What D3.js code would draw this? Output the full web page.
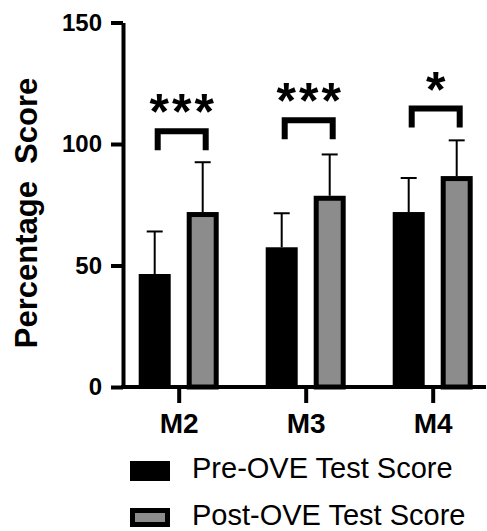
<!DOCTYPE html>
<html>
<head>
<meta charset="utf-8">
<script src="https://cdn.jsdelivr.net/npm/d3@7"></script>
<style>
  body { margin: 0; background: #fff; }
  svg { display: block; font-family: "Liberation Sans", Arial, sans-serif; }
</style>
</head>
<body>
<div id="app"></div>
<script>
// data
const categories = ["M2", "M3", "M4"];
const series = ["Pre-OVE Test Score", "Post-OVE Test Score"];
const preMean = [46.5, 57.5, 72];
const preSD = [17.5, 14, 14];
const postMean = [72, 78.7, 86.8];
const postSD = [20.5, 17, 14.7];
const significance = ["***", "***", "*"];
const bracketLevel = [106.5, 111, 115.8];
const yTicks = [0, 50, 100, 150];

const width = 487, height = 531;
const svg = d3.select("#app").append("svg")
    .attr("width", width)
    .attr("height", height);

// scales
const y = d3.scaleLinear().domain([0, 150]).range([387, 22.5]);
const x = d3.scalePoint().domain(categories).range([178.7, 432.7]);
const xSub = d3.scaleBand().domain(series).range([-40, 40]).paddingInner(1 / 3);
const bw = xSub.bandwidth();

const rows = categories.map((c, i) => ({
    cat: c,
    bars: [
        { s: series[0], mean: preMean[i], sd: preSD[i] },
        { s: series[1], mean: postMean[i], sd: postSD[i] }
    ],
    sig: significance[i],
    level: bracketLevel[i]
}));

// error bars (only the upper half shows)
const err = svg.append("g");
rows.forEach(r => {
    r.bars.forEach(b => {
        const cx = x(r.cat) + xSub(b.s) + bw / 2;
        err.append("line")
            .attr("x1", cx).attr("x2", cx)
            .attr("y1", y(b.mean)).attr("y2", y(b.mean + b.sd))
            .attr("stroke", "#000").attr("stroke-width", 2);
        err.append("line")
            .attr("x1", cx - 8).attr("x2", cx + 8)
            .attr("y1", y(b.mean + b.sd)).attr("y2", y(b.mean + b.sd))
            .attr("stroke", "#000").attr("stroke-width", 2);
    });
});

// bars
const group = svg.selectAll(".grp")
    .data(rows)
    .enter().append("g")
    .attr("class", "grp")
    .attr("transform", d => `translate(${x(d.cat)},0)`);

group.append("rect")
    .attr("x", xSub(series[0]))
    .attr("y", d => y(d.bars[0].mean))
    .attr("width", bw)
    .attr("height", d => y(0) - y(d.bars[0].mean))
    .attr("fill", "#000");

group.append("rect")
    .attr("x", xSub(series[1]) + 2.5)
    .attr("y", d => y(d.bars[1].mean) + 2.5)
    .attr("width", bw - 5)
    .attr("height", d => y(0) - y(d.bars[1].mean) - 2.5)
    .attr("fill", "#8c8c8c")
    .attr("stroke", "#000")
    .attr("stroke-width", 5);

// significance brackets
group.append("path")
    .attr("d", d => {
        const x1 = xSub(series[0]) + bw / 2 + 3;
        const x2 = xSub(series[1]) + bw / 2 + 3;
        const top = y(d.level) + 3;
        return `M${x1},${top + 19}V${top}H${x2}V${top + 19}`;
    })
    .attr("fill", "none")
    .attr("stroke", "#000")
    .attr("stroke-width", 6);

group.append("text")
    .attr("x", 3 + 1.5)
    .attr("y", d => y(d.level) + 1)
    .attr("text-anchor", "middle")
    .style("font-size", "50px")
    .style("font-weight", "bold")
    .style("letter-spacing", "3px")
    .text(d => d.sig);

// y axis
const yAxis = svg.append("g")
    .attr("transform", "translate(123,0)")
    .call(d3.axisLeft(y).tickValues(yTicks).tickSize(12).tickSizeOuter(0).tickPadding(9));
yAxis.select(".domain").attr("stroke-width", 4);
yAxis.selectAll(".tick line").attr("stroke-width", 4);
yAxis.selectAll(".tick text")
    .style("font-size", "24px")
    .style("font-weight", "bold")
    .style("font-family", "'Liberation Sans', Arial, sans-serif")
    .attr("fill", "#000");

// x axis
svg.append("line")
    .attr("x1", 121).attr("x2", 486)
    .attr("y1", y(0)).attr("y2", y(0))
    .attr("stroke", "#000").attr("stroke-width", 4);
const xAxis = svg.append("g")
    .attr("transform", `translate(0,${y(0)})`)
    .call(d3.axisBottom(x).tickSize(16).tickSizeOuter(0).tickPadding(10));
xAxis.select(".domain").remove();
xAxis.selectAll(".tick line").attr("stroke-width", 4);
xAxis.selectAll(".tick text")
    .style("font-size", "28px")
    .style("font-weight", "bold")
    .style("font-family", "'Liberation Sans', Arial, sans-serif")
    .attr("fill", "#000");

// y label
svg.append("text")
    .attr("transform", "translate(37,213) rotate(-90)")
    .attr("text-anchor", "middle")
    .style("font-size", "31px")
    .style("font-weight", "bold")
    .style("white-space", "pre")
    .text("Percentage  Score");

// legend
const legend = svg.append("g");
legend.append("rect")
    .attr("x", 130).attr("y", 461).attr("width", 40).attr("height", 20)
    .attr("fill", "#000");
legend.append("rect")
    .attr("x", 132.5).attr("y", 510.5).attr("width", 35).attr("height", 14)
    .attr("fill", "#8c8c8c").attr("stroke", "#000").attr("stroke-width", 5);
legend.selectAll(".lt")
    .data(series)
    .enter().append("text")
    .attr("class", "lt")
    .attr("x", 192)
    .attr("y", (d, i) => 477.5 + i * 47.5)
    .style("font-size", "29px")
    .text(d => d);
</script>
</body>
</html>
